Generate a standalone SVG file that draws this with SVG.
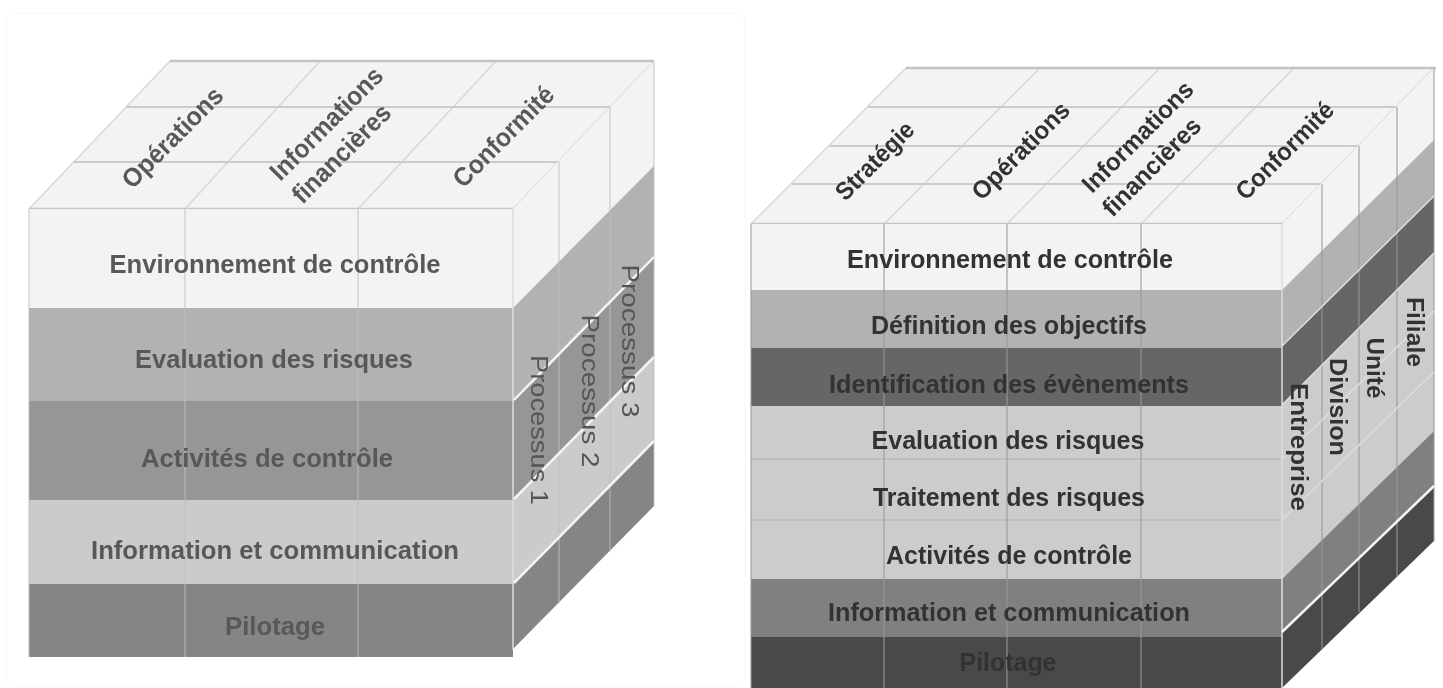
<svg xmlns="http://www.w3.org/2000/svg" width="1443" height="688" viewBox="0 0 1443 688">
<defs><filter id="soft" x="-2%" y="-2%" width="104%" height="104%"><feGaussianBlur stdDeviation="0.7"/></filter></defs>
<style>
.g{stroke:#d8d8d8;stroke-width:1.5;fill:none}
.r{stroke:#cbcbcb;stroke-width:2;fill:none}
.f{stroke:#c0c0c0;stroke-width:1.5;fill:none;opacity:.6}
.k{stroke:#999;stroke-width:1.5;fill:none;opacity:.7}
.h{stroke:#bbb;stroke-width:1.5;fill:none}
.e{stroke:#c4c4c4;stroke-width:2.5;fill:none}
.w{stroke:#f4f4f4;stroke-width:2.5;fill:none}
.x{stroke:#dedede;stroke-width:1.5;fill:none}
text{font-family:"Liberation Sans",Arial,sans-serif;text-anchor:middle}
.a{font-size:26px;font-weight:bold;fill:#595959}
.b{font-size:25px;font-weight:bold;fill:#333}
.s{font-size:23px;fill:#555}
.t{font-size:23px;font-weight:bold;fill:#333}
</style>
<rect x="6" y="13" width="739" height="673" rx="8" fill="#fff" stroke="#fbfbfb" stroke-width="2"/>
<g filter="url(#soft)">
<g id="cube-left">
<g id="left-top"><polygon points="29,209 170,61 654,61 513,209" fill="#f3f3f3"/>
<path class="g" d="M29,209L170,61M185,209L320,61M358,209L496,61M513,209L654,61"/>
<path class="r" d="M74,162H558M126,107H610"/>
<path class="e" d="M170,61H654M29,209H513"/></g>
<g id="left-bands">
<rect x="29" y="209" width="484" height="99" fill="#f3f3f3"/>
<rect x="29" y="308" width="484" height="93" fill="#b2b2b2"/>
<rect x="29" y="401" width="484" height="99" fill="#969696"/>
<rect x="29" y="500" width="484" height="84" fill="#cbcbcb"/>
<rect x="29" y="584" width="484" height="73" fill="#858585"/>
<path class="f" d="M29,209V657M185,209V657M358,209V657"/>
</g>
<g id="left-side">
<polygon points="513,209 654,61 654,166 513,308" fill="#f3f3f3"/>
<polygon points="513,308 654,166 654,257 513,401" fill="#b2b2b2"/>
<polygon points="513,401 654,257 654,357 513,500" fill="#969696"/>
<polygon points="513,500 654,357 654,441 513,584" fill="#cbcbcb"/>
<polygon points="513,584 654,441 654,506 513,649" fill="#858585"/>
<path class="f" d="M559,162V603M610,107V552M654,61V506"/>
<path class="x" d="M513,209V650"/>
<path class="w" d="M514,400L654,257M514,499L654,357M514,583L654,441"/>
</g>
<g id="left-labels">
<text class="a" x="275" y="273" textLength="331" lengthAdjust="spacingAndGlyphs">Environnement de contrôle</text>
<text class="a" x="274" y="368" textLength="278" lengthAdjust="spacingAndGlyphs">Evaluation des risques</text>
<text class="a" x="267" y="467" textLength="252" lengthAdjust="spacingAndGlyphs">Activités de contrôle</text>
<text class="a" x="275" y="559" textLength="368" lengthAdjust="spacingAndGlyphs">Information et communication</text>
<text class="a" x="275" y="635" textLength="100" lengthAdjust="spacingAndGlyphs">Pilotage</text>
<text class="a" transform="translate(173,138) rotate(-45)" y="8" textLength="131" lengthAdjust="spacingAndGlyphs">Opérations</text>
<text class="a" transform="translate(327,124) rotate(-45)" y="8" textLength="148" lengthAdjust="spacingAndGlyphs">Informations</text>
<text class="a" transform="translate(342,154) rotate(-45)" y="8" textLength="128" lengthAdjust="spacingAndGlyphs">financières</text>
<text class="a" transform="translate(504,137) rotate(-45)" y="8" textLength="131" lengthAdjust="spacingAndGlyphs">Conformité</text>
<text class="s" transform="translate(531,430) rotate(90)" textLength="150" lengthAdjust="spacingAndGlyphs">Processus 1</text>
<text class="s" transform="translate(582,391) rotate(90)" textLength="153" lengthAdjust="spacingAndGlyphs">Processus 2</text>
<text class="s" transform="translate(622,341) rotate(90)" textLength="153" lengthAdjust="spacingAndGlyphs">Processus 3</text>
</g>
</g>
<g id="cube-right">
<g id="right-top"><polygon points="751,224 906,68 1434,68 1282,224" fill="#f3f3f3"/>
<path class="g" d="M751,224L906,68M884,224L1040,68M1007,224L1160,68M1141,224L1294,68M1282,224L1434,68"/>
<path class="r" d="M792,184H1322M830,146H1359M868,107H1397"/>
<path class="e" d="M906,68H1436M751,224H1282"/></g>
<g id="right-bands">
<rect x="751" y="224" width="531" height="66" fill="#f3f3f3"/>
<rect x="751" y="290" width="531" height="58" fill="#b2b2b2"/>
<rect x="751" y="348" width="531" height="58" fill="#666"/>
<rect x="751" y="406" width="531" height="173" fill="#ccc"/>
<rect x="751" y="579" width="531" height="58" fill="#808080"/>
<rect x="751" y="637" width="531" height="51" fill="#4a4a4a"/>
<path class="h" d="M751,459H1282M751,520H1282"/>
<path class="k" d="M751,224V688M884,224V688M1007,224V688M1141,224V688"/>
</g>
<g id="right-side">
<polygon points="1282,224 1434,68 1434,140 1282,290" fill="#f3f3f3"/>
<polygon points="1282,290 1434,140 1434,196 1282,346" fill="#b2b2b2"/>
<polygon points="1282,346 1434,196 1434,253 1282,405" fill="#666"/>
<polygon points="1282,405 1434,253 1434,431 1282,579" fill="#ccc"/>
<polygon points="1282,579 1434,431 1434,486 1282,632" fill="#808080"/>
<polygon points="1282,632 1434,486 1434,541 1282,688" fill="#4a4a4a"/>
<path class="k" d="M1322,184V650M1359,146V612M1397,107V577M1434,68V541"/>
<path class="x" d="M1282,224V688M1282,459L1434,311M1282,520L1434,372M1282,405L1434,253M1282,346L1434,196"/>
<path class="w" d="M1282,632L1434,486"/>
</g>
<g id="right-labels">
<text class="b" x="1010" y="268" textLength="326" lengthAdjust="spacingAndGlyphs">Environnement de contrôle</text>
<text class="b" x="1009" y="334" textLength="276" lengthAdjust="spacingAndGlyphs">Définition des objectifs</text>
<text class="b" x="1009" y="393" textLength="360" lengthAdjust="spacingAndGlyphs">Identification des évènements</text>
<text class="b" x="1008" y="449" textLength="273" lengthAdjust="spacingAndGlyphs">Evaluation des risques</text>
<text class="b" x="1009" y="506" textLength="272" lengthAdjust="spacingAndGlyphs">Traitement des risques</text>
<text class="b" x="1009" y="564" textLength="246" lengthAdjust="spacingAndGlyphs">Activités de contrôle</text>
<text class="b" x="1009" y="621" textLength="362" lengthAdjust="spacingAndGlyphs">Information et communication</text>
<text class="b" x="1008" y="671" textLength="97" lengthAdjust="spacingAndGlyphs">Pilotage</text>
<text class="b" transform="translate(875,161) rotate(-45)" y="8" textLength="100" lengthAdjust="spacingAndGlyphs">Stratégie</text>
<text class="b" transform="translate(1021,151) rotate(-45)" y="8" textLength="127" lengthAdjust="spacingAndGlyphs">Opérations</text>
<text class="b" transform="translate(1138,137) rotate(-45)" y="8" textLength="146" lengthAdjust="spacingAndGlyphs">Informations</text>
<text class="b" transform="translate(1152,167) rotate(-45)" y="8" textLength="128" lengthAdjust="spacingAndGlyphs">financières</text>
<text class="b" transform="translate(1285,151) rotate(-45)" y="8" textLength="127" lengthAdjust="spacingAndGlyphs">Conformité</text>
<text class="t" transform="translate(1291,447) rotate(90)" textLength="128" lengthAdjust="spacingAndGlyphs">Entreprise</text>
<text class="t" transform="translate(1330,407) rotate(90)" textLength="98" lengthAdjust="spacingAndGlyphs">Division</text>
<text class="t" transform="translate(1367,368) rotate(90)" textLength="61" lengthAdjust="spacingAndGlyphs">Unité</text>
<text class="t" transform="translate(1407,332) rotate(90)" textLength="70" lengthAdjust="spacingAndGlyphs">Filiale</text>
</g>
</g>
</g>
</svg>
